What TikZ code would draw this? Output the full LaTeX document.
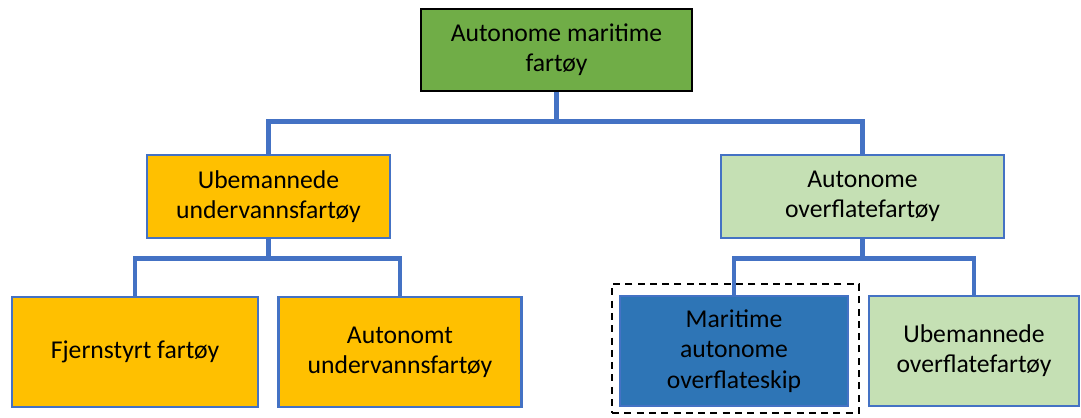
\documentclass[tikz,border=0pt]{standalone}
\usepackage{fontspec}
\setmainfont{Carlito}
\usepackage{xcolor}
\usepackage{tikz}

\definecolor{topgreen}{HTML}{70AD47}
\definecolor{subyellow}{HTML}{FFC000}
\definecolor{palegreen}{HTML}{C5E0B4}
\definecolor{shipblue}{HTML}{2E75B6}
\definecolor{edgeblue}{HTML}{4472C4}

\begin{document}
\begin{tikzpicture}[x=0.02cm, y=-0.02cm,
    box/.style={rectangle, draw=edgeblue, line width=1.3pt, align=center,
                inner sep=2pt, font=\fontsize{14.6}{17.2}\selectfont},
    link/.style={draw=edgeblue, line width=2.8pt}]
    \useasboundingbox (0,0) rectangle (1081,417);

    % level 0
    \node[box, draw=black, fill=topgreen, minimum width=5.42cm, minimum height=1.64cm]
        (top) at (556.5,50) {Autonome maritime\\fartøy};
    % level 1
    \node[box, fill=subyellow, minimum width=4.86cm, minimum height=1.66cm]
        (uuv) at (268.5,196.5) {Ubemannede\\undervannsfartøy};
    \node[box, fill=palegreen, minimum width=5.66cm, minimum height=1.66cm]
        (asv) at (862.5,196.5) {Autonome\\overflatefartøy};
    % level 2
    \node[box, fill=subyellow, minimum width=4.92cm, minimum height=2.2cm]
        (rov) at (135,352) {Fjernstyrt fartøy};
    \node[box, fill=subyellow, minimum width=4.86cm, minimum height=2.2cm]
        (auv) at (400,352) {Autonomt\\undervannsfartøy};
    \node[box, fill=shipblue, minimum width=4.56cm, minimum height=2.2cm]
        (mass) at (734,351) {Maritime\\autonome\\overflateskip};
    \node[box, fill=palegreen, minimum width=4.2cm, minimum height=2.2cm]
        (usv) at (974,351) {Ubemannede\\overflatefartøy};

    % dashed frame round the ship box
    \node[draw=black, line width=1.3pt, dash pattern=on 4pt off 3pt,
          minimum width=4.94cm, minimum height=2.58cm] (frame) at (735.5,348.5) {};

    % tree connectors
    \draw[link] (top.south) -- ++(0,29) coordinate (j0) -| (uuv.north);
    \draw[link] (j0) -| (asv.north);
    \draw[link] (uuv.south) -- ++(0,19) coordinate (j1) -| (rov.north);
    \draw[link] (j1) -| (auv.north);
    \draw[link] (asv.south) -- ++(0,19) coordinate (j2) -| (mass.north);
    \draw[link] (j2) -| (usv.north);
\end{tikzpicture}
\end{document}
